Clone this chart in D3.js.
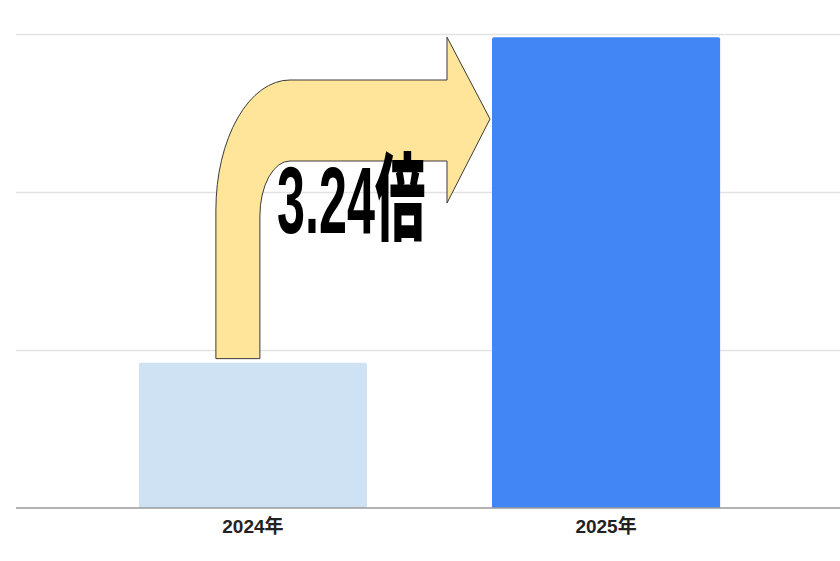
<!DOCTYPE html>
<html>
<head>
<meta charset="utf-8">
<script src="https://cdn.jsdelivr.net/npm/d3@7"></script>
<style>
  html, body { margin: 0; padding: 0; background: #fff; }
  svg { display: block; }
</style>
</head>
<body>
<svg id="chart" width="840" height="561"></svg>
<script>
// ---- data ----
const categories = ["2024年", "2025年"];
const values = [0.92, 2.98];
const barColors = ["#cfe2f3", "#4285f4"];
const gridTicks = [0, 1, 2, 3];
const ratioLabel = "3.24倍";

// ---- layout ----
const W = 840, H = 561;
const svg = d3.select("#chart");

const x = d3.scaleBand()
  .domain(categories)
  .range([16, 843])
  .paddingInner(0.354)
  .paddingOuter(0.348);

const y = d3.scaleLinear()
  .domain([0, 3])
  .range([508, 34]);

// gridlines
svg.append("g")
  .selectAll("line")
  .data(gridTicks.filter(d => d > 0))
  .join("line")
  .attr("x1", 16).attr("x2", W)
  .attr("y1", d => Math.round(y(d)) + 0.5)
  .attr("y2", d => Math.round(y(d)) + 0.5)
  .attr("stroke", "#e2e2e2")
  .attr("stroke-width", 1.5);

// bars
svg.append("g")
  .selectAll("path")
  .data(categories)
  .join("path")
  .attr("d", (c, i) => {
    const x0 = x(c), x1 = x(c) + x.bandwidth();
    const yt = y(values[i]), yb = y(0);
    const r = 2;
    return `M${x0},${yb} L${x0},${yt + r} Q${x0},${yt} ${x0 + r},${yt} L${x1 - r},${yt} Q${x1},${yt} ${x1},${yt + r} L${x1},${yb} Z`;
  })
  .attr("fill", (c, i) => barColors[i]);

// baseline axis
const xAxis = d3.axisBottom(x).tickSize(0).tickPadding(12);
const ax = svg.append("g")
  .attr("transform", `translate(0,${y(0)})`)
  .call(xAxis);
ax.select(".domain").remove();
svg.append("line")
  .attr("x1", 16).attr("x2", W)
  .attr("y1", y(0)).attr("y2", y(0))
  .attr("stroke", "#9a9a9a")
  .attr("stroke-width", 1.5);
ax.selectAll("text")
  .attr("font-family", "'Liberation Sans', Arial, 'Noto Sans CJK JP', sans-serif")
  .attr("font-size", 19)
  .attr("font-weight", "bold")
  .attr("fill", "#222");

// ---- arrow annotation, anchored to scales ----
const b0 = x(categories[0]), b1 = x(categories[1]);
const sL = b0 + 77, sR = b0 + 121;           // vertical shaft edges
const sBottom = y(values[0]) - 4;            // shaft bottom just above 2024 bar
const topY = 80, innerY = 161;               // horizontal shaft edges
const headX = b1 - 45, tipX = b1 - 2;        // arrow head
const headTop = y(values[1]), headBot = 203, tipY = 119;
const cx = 290;
const arrowPath =
  `M${sL},${sBottom} L${sL},210 A${cx - sL} 130 0 0 1 ${cx},${topY} ` +
  `L${headX},${topY} L${headX},${headTop} L${tipX},${tipY} L${headX},${headBot} ` +
  `L${headX},${innerY} L${cx},${innerY} A${cx - sR} 55 0 0 0 ${sR},${innerY + 55} ` +
  `L${sR},${sBottom} Z`;
svg.append("path")
  .attr("d", arrowPath)
  .attr("fill", "#ffe599")
  .attr("stroke", "#3a3a3a")
  .attr("stroke-width", 1)
  .attr("stroke-linejoin", "miter");

// ratio text
svg.append("text")
  .attr("transform", "translate(277,233) scale(0.53,1)")
  .attr("font-family", "'Liberation Sans', Arial, 'Noto Sans CJK JP', sans-serif")
  .attr("font-size", 95)
  .attr("font-weight", "900")
  .attr("fill", "#000")
  .text(ratioLabel);
</script>
</body>
</html>
